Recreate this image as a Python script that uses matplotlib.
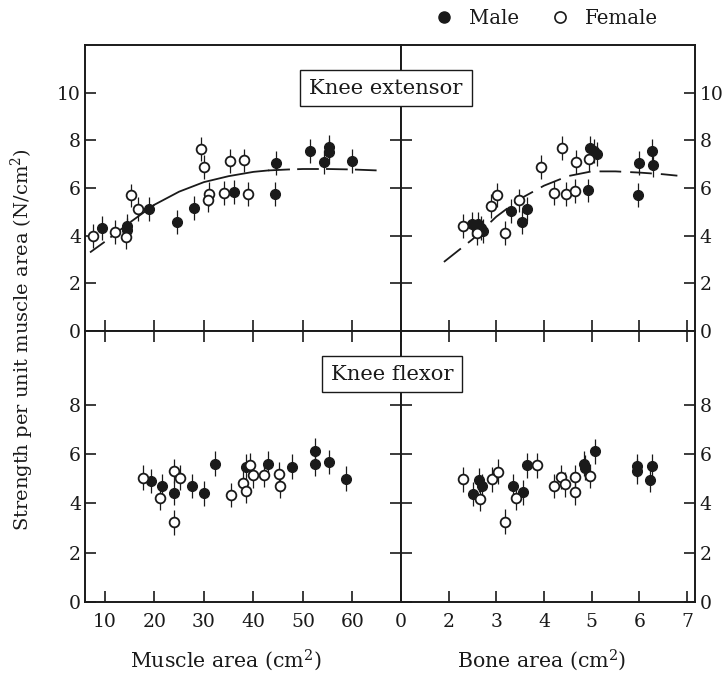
import matplotlib
matplotlib.use('Agg')
import matplotlib.pyplot as plt
from matplotlib.lines import Line2D

plt.rcParams['font.family'] = ['DejaVu Serif']
plt.rcParams['mathtext.fontset'] = 'dejavuserif'

INK = '#1a1a1a'

# --- Knee extensor vs muscle area ---
ext_mus_f_x = [7.6, 12.0, 14.2, 15.3, 16.7, 29.4, 30.1, 31.1, 30.9, 34.1, 35.3, 38.1, 38.9]
ext_mus_f_y = [3.99, 4.17, 3.96, 5.69, 5.11, 7.64, 6.88, 5.74, 5.48, 5.79, 7.15, 7.16, 5.76]
ext_mus_m_x = [9.5, 14.4, 14.4, 19.0, 24.5, 28.0, 36.0, 44.6, 44.3, 51.4, 54.2, 55.3, 55.3, 60.0]
ext_mus_m_y = [4.31, 4.42, 4.24, 5.11, 4.59, 5.18, 5.83, 7.05, 5.74, 7.54, 7.08, 7.72, 7.52, 7.15]
ext_mus_fit_x = [7, 10, 15, 20, 25, 30, 35, 40, 43, 47, 50, 55, 60, 65]
ext_mus_fit_y = [3.3, 3.75, 4.55, 5.3, 5.85, 6.25, 6.5, 6.68, 6.74, 6.78, 6.8, 6.8, 6.78, 6.74]

# --- Knee extensor vs bone area ---
ext_bone_f_x = [2.31, 2.59, 2.89, 3.02, 3.19, 3.47, 3.94, 4.21, 4.38, 4.46, 4.66, 4.68, 4.95]
ext_bone_f_y = [4.42, 4.13, 5.25, 5.72, 4.10, 5.48, 6.87, 5.79, 7.68, 5.76, 5.86, 7.08, 7.22]
ext_bone_m_x = [2.48, 2.61, 2.67, 2.71, 3.31, 3.53, 3.65, 4.92, 4.97, 5.04, 5.11, 5.99, 5.97, 6.27, 6.29]
ext_bone_m_y = [4.48, 4.48, 4.31, 4.21, 5.04, 4.57, 5.13, 5.90, 7.68, 7.54, 7.44, 7.05, 5.72, 7.54, 6.98]
ext_bone_fit_x = [1.9, 2.5, 3.0, 3.5, 4.0, 4.5, 5.0, 5.5, 6.0, 6.5, 6.8]
ext_bone_fit_y = [2.9, 3.85, 4.8, 5.55, 6.1, 6.5, 6.7, 6.7, 6.65, 6.58, 6.52]

# --- Knee flexor vs muscle area ---
flx_mus_f_x = [17.7, 21.2, 24.0, 24.0, 25.2, 35.5, 37.9, 38.5, 39.3, 40.0, 42.2, 45.2, 45.4]
flx_mus_f_y = [5.05, 4.24, 5.32, 3.24, 5.05, 4.35, 4.85, 4.51, 5.55, 5.14, 5.15, 5.18, 4.71]
flx_mus_m_x = [19.4, 21.6, 24.0, 27.5, 30.1, 32.2, 38.4, 43.0, 47.8, 52.4, 52.4, 55.3, 58.7]
flx_mus_m_y = [4.91, 4.71, 4.42, 4.71, 4.41, 5.61, 5.49, 5.61, 5.49, 6.15, 5.61, 5.68, 5.01]

# --- Knee flexor vs bone area ---
flx_bone_f_x = [2.30, 2.65, 2.90, 3.03, 3.18, 3.42, 3.86, 4.22, 4.36, 4.45, 4.66, 4.66, 4.96]
flx_bone_f_y = [4.98, 4.18, 4.98, 5.29, 3.26, 4.24, 5.55, 4.71, 5.07, 4.78, 5.07, 4.45, 5.12]
flx_bone_m_x = [2.51, 2.63, 2.70, 3.36, 3.57, 3.64, 4.85, 4.87, 5.08, 5.96, 5.96, 6.26, 6.23]
flx_bone_m_y = [4.38, 4.95, 4.71, 4.71, 4.45, 5.55, 5.61, 5.45, 6.12, 5.52, 5.31, 5.52, 4.95]

err = 0.5

fig = plt.figure(figsize=(7.27, 6.73), dpi=100)
gs = fig.add_gridspec(2, 2, width_ratios=[316, 294], height_ratios=[286, 271],
                      wspace=0, hspace=0)
fig.subplots_adjust(left=0.117, right=0.956, top=0.933, bottom=0.1055)
ax_tl = fig.add_subplot(gs[0, 0])
ax_tr = fig.add_subplot(gs[0, 1])
ax_bl = fig.add_subplot(gs[1, 0])
ax_br = fig.add_subplot(gs[1, 1])


def draw_points(ax, mx, my, fx, fy):
    ax.errorbar(mx, my, yerr=err, fmt='o', ms=7, color=INK, mfc=INK, mec=INK,
                ecolor=INK, elinewidth=0.9, capsize=0, zorder=3)
    ax.errorbar(fx, fy, yerr=err, fmt='o', ms=7, color=INK, mfc='white', mec=INK,
                mew=1.3, ecolor=INK, elinewidth=0.9, capsize=0, zorder=4)


draw_points(ax_tl, ext_mus_m_x, ext_mus_m_y, ext_mus_f_x, ext_mus_f_y)
draw_points(ax_tr, ext_bone_m_x, ext_bone_m_y, ext_bone_f_x, ext_bone_f_y)
draw_points(ax_bl, flx_mus_m_x, flx_mus_m_y, flx_mus_f_x, flx_mus_f_y)
draw_points(ax_br, flx_bone_m_x, flx_bone_m_y, flx_bone_f_x, flx_bone_f_y)

# fitted curves
ax_tl.plot(ext_mus_fit_x[:4], ext_mus_fit_y[:4], color=INK, lw=1.3, dashes=(10, 4), zorder=2)
ax_tl.plot(ext_mus_fit_x[3:9], ext_mus_fit_y[3:9], color=INK, lw=1.3, zorder=2)
ax_tl.plot(ext_mus_fit_x[8:], ext_mus_fit_y[8:], color=INK, lw=1.3, dashes=(12, 4), zorder=2)
ax_tr.plot(ext_bone_fit_x, ext_bone_fit_y, color=INK, lw=1.3, dashes=(12, 5), zorder=2)

for ax in (ax_tl, ax_bl):
    ax.set_xlim(6, 69.8)
    ax.set_xticks([10, 20, 30, 40, 50, 60])
for ax in (ax_tr, ax_br):
    ax.set_xlim(1.0, 7.17)
    ax.set_xticks([1.0, 2, 3, 4, 5, 6, 7])
    ax.set_xticklabels(['0', '2', '3', '4', '5', '6', '7'])
for ax in (ax_tl, ax_tr):
    ax.set_ylim(0, 12)
    ax.set_yticks([0, 2, 4, 6, 8, 10])
for ax in (ax_bl, ax_br):
    ax.set_ylim(0, 11)
    ax.set_yticks([0, 2, 4, 6, 8])

for ax in (ax_tl, ax_tr, ax_bl, ax_br):
    for s in ax.spines.values():
        s.set_linewidth(1.4)
        s.set_color(INK)
    ax.tick_params(direction='in', length=8, width=1.2, color=INK,
                   labelsize=13.5, labelcolor=INK, left=True, right=True)

ax_tl.tick_params(top=False, labelbottom=False, labelleft=True, labelright=False)
ax_tr.tick_params(top=False, labelbottom=False, labelleft=False, labelright=True)
ax_bl.tick_params(top=True, labelbottom=True, labelleft=True, labelright=False)
ax_br.tick_params(top=True, labelbottom=True, labelleft=False, labelright=True)
for ax in (ax_tl, ax_bl):
    ax.tick_params(axis='y', pad=3)
for ax in (ax_bl, ax_br):
    ax.tick_params(axis='x', pad=8)

box = dict(boxstyle='square,pad=0.42', fc='white', ec=INK, lw=1.0)
fig.text(386 / 727, 1 - 88 / 673, 'Knee extensor', ha='center', va='center',
         fontsize=15.2, color=INK, bbox=box)
fig.text(392 / 727, 1 - 374 / 673, 'Knee flexor', ha='center', va='center',
         fontsize=15.2, color=INK, bbox=box)

fig.text(22 / 727, 1 - 340 / 673, 'Strength per unit muscle area (N/cm$^2$)',
         rotation=90, ha='center', va='center', fontsize=14, color=INK)
fig.text(226 / 727, 1 - 660 / 673, 'Muscle area (cm$^2$)', ha='center', va='center',
         fontsize=14.8, color=INK)
fig.text(542 / 727, 1 - 660 / 673, 'Bone area (cm$^2$)', ha='center', va='center',
         fontsize=14.8, color=INK)

handles = [Line2D([], [], ls='none', marker='o', ms=8, mfc=INK, mec=INK),
           Line2D([], [], ls='none', marker='o', ms=8, mfc='white', mec=INK, mew=1.2)]
fig.legend(handles, ['Male', 'Female'], loc='center', ncol=2, frameon=False,
           bbox_to_anchor=(541 / 727, 1 - 18 / 673), fontsize=14.2,
           handletextpad=0.25, columnspacing=1.1, labelcolor=INK)

fig.savefig('out.png', dpi=100)
